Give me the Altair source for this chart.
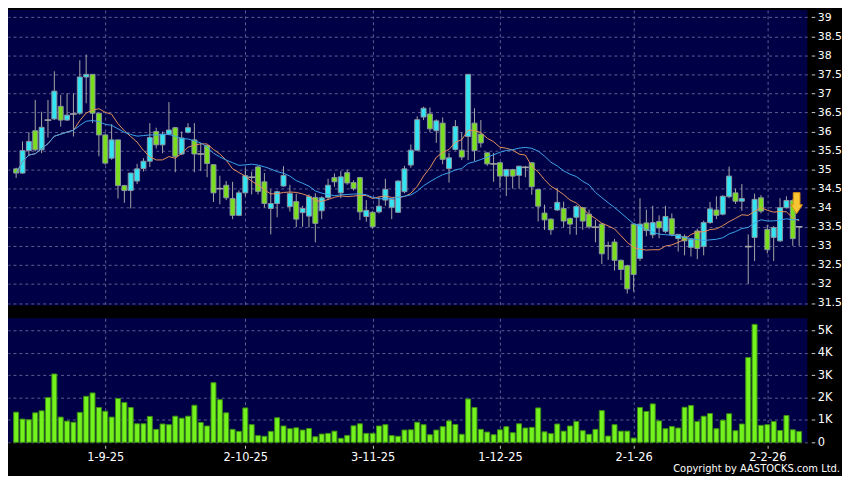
import altair as alt
import pandas as pd

# ---------------- data ----------------
opens = [35.02, 34.91, 35.50, 36.02, 35.52, 36.30, 36.33, 36.66, 36.30, 36.46,
         36.48, 37.43, 37.50, 36.48, 35.91, 35.30, 35.78, 34.58, 34.45, 34.70,
         35.03, 35.22, 36.00, 35.65, 35.93, 36.10, 35.41, 35.98, 35.78, 35.41,
         35.63, 35.13, 34.50, 34.59, 34.24, 33.80, 34.39, 34.80, 35.07, 34.68,
         33.98, 34.11, 34.57, 34.03, 34.16, 33.87, 33.78, 34.27, 33.92, 34.27,
         34.79, 34.39, 34.92, 34.66, 34.79, 33.77, 33.88, 33.89, 34.20, 34.01,
         33.88, 34.42, 35.12, 35.51, 36.38, 36.46, 36.02, 36.22, 35.03, 35.53,
         35.51, 35.87, 36.22, 35.93, 35.44, 35.15, 35.18, 34.83, 35.00, 34.85,
         35.06, 35.18, 34.48, 33.86, 33.70, 33.94, 33.98, 33.72, 33.75, 34.00,
         33.83, 33.49, 33.57, 33.00, 33.10, 32.62, 32.48, 33.57, 32.67, 33.60,
         33.29, 33.64, 33.38, 33.71, 33.19, 33.24, 32.96, 33.39, 32.98, 33.61,
         33.94, 33.83, 34.29, 34.39, 34.17, 32.98, 33.22, 34.26, 33.43, 33.22,
         33.13, 34.00, 34.19, 33.50]
highs = [35.05, 35.74, 35.98, 36.83, 36.52, 36.83, 37.58, 36.96, 37.00, 37.00,
         37.87, 38.02, 37.50, 36.48, 35.95, 36.19, 35.78, 34.60, 34.91, 35.15,
         35.30, 36.22, 36.10, 36.00, 36.77, 36.12, 36.00, 36.22, 36.22, 35.70,
         35.65, 35.13, 34.84, 34.70, 34.68, 34.45, 35.05, 34.95, 35.10, 34.91,
         34.48, 34.45, 35.09, 34.60, 34.37, 34.05, 34.35, 34.38, 34.30, 34.76,
         34.90, 34.96, 35.00, 34.72, 34.81, 34.20, 33.92, 34.28, 34.76, 34.26,
         34.72, 35.10, 35.66, 36.40, 36.65, 36.63, 36.32, 36.37, 35.44, 36.30,
         35.98, 37.50, 36.61, 36.30, 35.45, 35.44, 35.20, 35.02, 35.02, 35.10,
         35.10, 35.20, 34.48, 34.08, 33.72, 34.52, 34.16, 33.74, 34.07, 34.02,
         33.95, 33.68, 33.60, 33.11, 33.18, 32.64, 32.50, 33.60, 34.25, 33.95,
         34.05, 33.80, 34.05, 33.85, 33.30, 33.30, 33.20, 33.45, 33.66, 34.15,
         34.30, 34.33, 35.08, 34.50, 34.62, 33.30, 34.37, 34.33, 33.55, 33.52,
         34.25, 34.30, 34.22, 33.52]
lows = [34.78, 34.89, 35.35, 35.48, 35.43, 35.84, 36.30, 36.13, 36.28, 35.87,
        36.44, 36.74, 36.22, 35.35, 35.13, 35.26, 34.24, 34.13, 33.98, 34.62,
        34.95, 35.07, 35.55, 35.43, 35.90, 34.93, 35.38, 35.95, 34.93, 34.96,
        34.80, 34.15, 34.09, 34.20, 33.70, 33.78, 34.30, 34.35, 34.35, 34.00,
        33.30, 33.75, 34.55, 33.90, 33.49, 33.50, 33.48, 33.09, 33.70, 34.20,
        34.55, 34.25, 34.60, 34.45, 33.68, 33.63, 33.45, 33.85, 34.05, 33.70,
        33.86, 34.38, 35.05, 35.48, 36.30, 35.98, 35.70, 35.14, 34.66, 35.50,
        35.25, 35.25, 35.22, 35.58, 35.10, 34.68, 34.52, 34.31, 34.50, 34.50,
        34.80, 34.34, 33.64, 33.42, 33.29, 33.92, 33.48, 33.30, 33.29, 33.42,
        33.45, 33.09, 32.52, 32.63, 32.35, 32.10, 31.75, 31.80, 32.60, 33.25,
        33.20, 33.20, 33.33, 33.25, 32.85, 32.75, 32.72, 32.65, 32.75, 33.58,
        33.70, 33.80, 34.25, 34.10, 33.92, 32.00, 32.60, 33.85, 32.80, 32.60,
        33.10, 33.98, 33.00, 33.00]
closes = [34.91, 35.50, 35.74, 35.52, 36.11, 36.30, 37.06, 36.30, 36.43, 36.46,
          37.43, 37.50, 36.48, 35.91, 35.17, 35.78, 34.58, 34.45, 34.91, 35.02,
          35.22, 35.84, 35.65, 35.93, 36.04, 35.35, 35.83, 36.10, 35.41, 35.41,
          35.16, 34.39, 34.50, 34.26, 33.80, 34.39, 34.84, 34.80, 34.43, 34.11,
          34.11, 34.42, 34.85, 34.37, 33.70, 33.98, 34.29, 33.59, 34.26, 34.59,
          34.68, 34.81, 34.65, 34.50, 33.89, 33.93, 33.50, 34.04, 34.48, 34.22,
          34.70, 35.02, 35.51, 36.31, 36.61, 36.07, 36.28, 35.27, 35.31, 36.13,
          35.33, 37.50, 35.50, 35.70, 35.15, 35.15, 34.83, 35.00, 34.83, 35.09,
          35.06, 34.55, 34.04, 33.68, 33.42, 34.14, 33.65, 33.57, 34.03, 33.65,
          33.50, 33.49, 32.79, 33.00, 32.62, 32.38, 31.87, 32.25, 33.57, 33.40,
          33.61, 33.47, 33.77, 33.30, 33.30, 33.13, 33.17, 32.93, 33.61, 33.97,
          33.80, 34.30, 34.83, 34.17, 34.24, 32.98, 34.22, 33.91, 32.90, 33.48,
          34.00, 34.19, 33.19, 33.50]
volumes_k = [1.35, 1.04, 1.01, 1.32, 1.41, 2.00, 3.06, 1.13, 0.95, 0.90,
             1.34, 2.06, 2.21, 1.56, 1.39, 1.13, 1.96, 1.78, 1.56, 0.83,
             0.83, 1.16, 0.58, 0.82, 0.79, 1.17, 1.08, 1.17, 1.66, 0.89,
             0.73, 2.67, 1.91, 1.32, 0.58, 0.49, 1.54, 0.79, 0.30, 0.27,
             0.49, 1.10, 0.73, 0.61, 0.65, 0.55, 0.62, 0.25, 0.37, 0.40,
             0.50, 0.18, 0.31, 0.74, 0.83, 0.40, 0.40, 0.73, 0.79, 0.30,
             0.27, 0.55, 0.56, 0.90, 0.79, 0.34, 0.55, 0.70, 0.96, 0.80,
             0.36, 1.94, 1.56, 0.58, 0.46, 0.34, 0.56, 0.70, 0.43, 0.83,
             0.64, 0.67, 1.54, 0.47, 0.39, 0.82, 0.50, 0.73, 0.93, 0.52,
             0.36, 0.58, 1.42, 0.28, 0.79, 0.50, 0.50, 0.19, 1.56, 1.38,
             1.72, 0.96, 0.61, 0.71, 0.64, 1.57, 1.65, 0.93, 1.17, 1.29,
             0.61, 0.99, 1.28, 0.52, 0.82, 3.80, 5.28, 0.76, 0.79, 0.93,
             0.53, 1.20, 0.56, 0.49]

tick_index = [14, 36, 56, 76, 97, 118]
tick_labels = ["1-9-25", "2-10-25", "3-11-25", "1-12-25", "2-1-26", "2-2-26"]
price_ticks = [31.5, 32, 32.5, 33, 33.5, 34, 34.5, 35, 35.5, 36, 36.5, 37, 37.5, 38, 38.5, 39]
volume_ticks = [0, 1, 2, 3, 4, 5]
copyright_text = "Copyright by AASTOCKS.com Ltd."
last_marker = {"i": [122.6], "price": [34.12]}

# ---------------- table ----------------
n = len(closes)
df = pd.DataFrame({"i": list(range(n)), "open": opens, "high": highs, "low": lows,
                   "close": closes, "vol": volumes_k})
df["dir"] = ["up" if c > o else ("down" if c < o else "flat") for o, c in zip(opens, closes)]

# ---------------- styles ----------------
NAVY = "#000046"
GRID = "#5e5e92"
CYAN = "#33e4f2"
GREEN = "#7ade1e"
W, H1, H2 = 806, 298, 125
FONT = "DejaVu Sans"

xscale = alt.Scale(domain=[-0.5, n - 0.5], nice=False, zero=False)
yscale_price = alt.Scale(domain=[31.435, 39.19], nice=False, zero=False)
yscale_vol = alt.Scale(domain=[0, 5.55], nice=False, zero=True)

x_price_axis = alt.Axis(values=tick_index, labels=False, ticks=False, domain=False, title=None,
                        grid=True, gridColor=GRID, gridDash=[3, 3], gridWidth=1,
                        minExtent=0, maxExtent=0)
y_price_axis = alt.Axis(orient="right", values=price_ticks, labelExpr="toString(datum.value)",
                        title=None, domain=False, tickSize=3.5, offset=4, labelPadding=2.5,
                        grid=True, gridColor=GRID, gridDash=[3, 3], gridWidth=1)

label_expr = ("[" + ",".join("'%s'" % s for s in tick_labels) + "][indexof(["
              + ",".join(str(v) for v in tick_index) + "], datum.value)]")
x_vol_axis = alt.Axis(values=tick_index, labelExpr=label_expr, title=None, domain=False,
                      ticks=True, tickSize=3, offset=3, labelPadding=3, labelFontSize=11.5,
                      grid=True, gridColor=GRID, gridDash=[3, 3], gridWidth=1)
y_vol_axis = alt.Axis(orient="right", values=volume_ticks,
                      labelExpr="datum.value == 0 ? '0' : toString(datum.value) + 'K'",
                      title=None, domain=False, tickSize=3.5, offset=4, labelPadding=2.5,
                      labelFontSize=11.5,
                      grid=True, gridColor=GRID, gridDash=[3, 3], gridWidth=1)

X = alt.X("i:Q", scale=xscale, axis=x_price_axis)

base = alt.Chart(df)

wicks = base.mark_rule(color="#a6a6a6", strokeWidth=1).encode(
    x=X, y=alt.Y("low:Q", scale=yscale_price, axis=y_price_axis), y2="high:Q")

bodies = base.transform_filter("datum.dir != 'flat'").mark_bar(
    size=5, stroke="#8a96a2", strokeWidth=1).encode(
    x=X, y=alt.Y("open:Q", scale=yscale_price, axis=y_price_axis), y2="close:Q",
    fill=alt.Fill("dir:N", scale=alt.Scale(domain=["up", "down"], range=[CYAN, GREEN]), legend=None))

flats = base.transform_filter("datum.dir == 'flat'").mark_point(
    shape="stroke", size=45, color="#a8a8a8", strokeWidth=1.6, filled=False, opacity=1).encode(
    x=X, y=alt.Y("close:Q", scale=yscale_price, axis=y_price_axis))

ma = base.transform_window(
    ma10="mean(close)", frame=[-9, 0], sort=[alt.SortField("i")]
).transform_window(
    ma20="mean(close)", frame=[-19, 0], sort=[alt.SortField("i")])

ma10_line = ma.mark_line(color="#e6915a", strokeWidth=1).encode(
    x=X, y=alt.Y("ma10:Q", scale=yscale_price, axis=y_price_axis))
ma20_line = ma.mark_line(color="#3da3ea", strokeWidth=1).encode(
    x=X, y=alt.Y("ma20:Q", scale=yscale_price, axis=y_price_axis))

ARROW = "M-0.32,-1L0.32,-1L0.32,0.15L0.55,0.15L0,1L-0.55,0.15L-0.32,0.15Z"
arrow = alt.Chart(pd.DataFrame(last_marker)).mark_point(
    shape=ARROW, filled=True, fill="#f7c433", stroke="#d9900f", strokeWidth=1,
    size=450, opacity=1).encode(
    x=X, y=alt.Y("price:Q", scale=yscale_price, axis=y_price_axis))

price = alt.layer(wicks, bodies, flats, ma10_line, ma20_line, arrow).properties(width=W, height=H1)

vol_bars = base.mark_bar(size=5, fill="#74f21e", stroke="#3c8e14", strokeWidth=1).encode(
    x=alt.X("i:Q", scale=xscale, axis=x_vol_axis),
    y=alt.Y("vol:Q", scale=yscale_vol, axis=y_vol_axis))

cp = alt.Chart(pd.DataFrame({"t": [copyright_text]})).mark_text(
    align="right", baseline="middle", color="#ffffff", font=FONT, fontSize=10).encode(
    text="t:N", x=alt.value(839), y=alt.value(152))

volume = alt.layer(vol_bars, cp).properties(width=W, height=H2)

chart = alt.vconcat(price, volume, spacing=13, bounds="flush").properties(
    background="#000000", padding=0
).configure_view(fill=NAVY, stroke=None).configure_axis(
    labelColor="#ffffff", labelFont=FONT, labelFontSize=11, tickColor="#c8c8c8", tickWidth=1
)

chart.save("out.html", embed_options={"renderer": "svg", "actions": False})
